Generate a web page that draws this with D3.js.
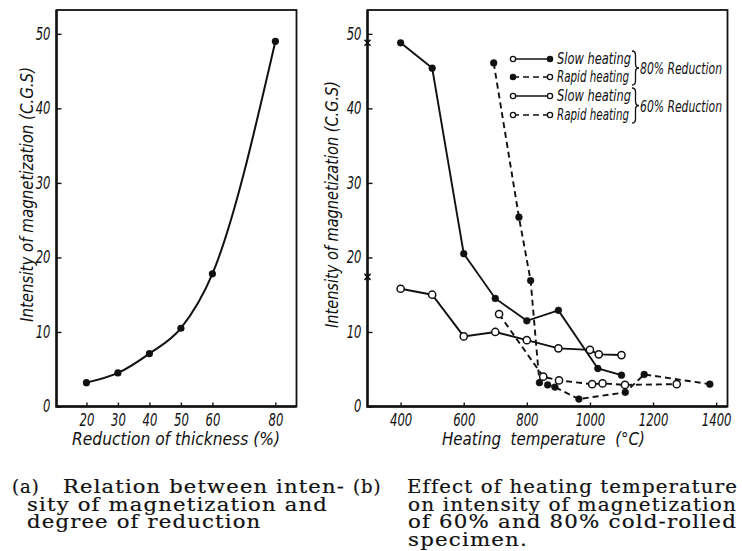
<!DOCTYPE html>
<html>
<head>
<meta charset="utf-8">
<script src="https://cdn.jsdelivr.net/npm/d3@7"></script>
<style>
  html, body { margin: 0; padding: 0; background: #fff; }
  svg { display: block; }
</style>
</head>
<body>
<script>
/* ---------- data ---------- */
// (a) magnetization vs reduction of thickness
const reduction = [20, 30, 40, 50, 60, 80];
const magnetA = [3.2, 4.5, 7.1, 10.5, 17.8, 49.0];
const reductionTicks = [20, 30, 40, 50, 60, 80];

// (b) magnetization vs heating temperature
const slow80T = [400, 500, 600, 700, 800, 900, 1025, 1100];
const slow80M = [48.8, 45.4, 20.5, 14.5, 11.5, 12.9, 5.1, 4.2];
const rapid80T = [695, 775, 812, 840, 866, 889, 965, 1112, 1172, 1380];
const rapid80M = [46.1, 25.4, 16.9, 3.2, 2.9, 2.6, 1.0, 1.9, 4.3, 3.0];
const slow60T = [400, 500, 600, 700, 800, 900, 1000, 1028, 1100];
const slow60M = [15.8, 15.0, 9.4, 10.0, 8.9, 7.8, 7.6, 7.0, 6.9];
const rapid60T = [712, 852, 902, 1007, 1040, 1111, 1275];
const rapid60M = [12.4, 4.0, 3.5, 3.0, 3.1, 2.9, 3.0];
const asRolledM = [48.8, 17.4];           // the two "x" marks on the axis
const tempTicks = [400, 600, 800, 1000, 1200, 1400];
const magTicks = [0, 10, 20, 30, 40, 50];

const legendNames = ["Slow heating", "Rapid heating", "Slow heating", "Rapid heating"];
const groupNames = ["80% Reduction", "60% Reduction"];

const captionA = ["Relation between inten-", "sity of magnetization and", "degree of reduction"];
const captionB = ["Effect of heating temperature", "on intensity of magnetization", "of 60% and 80% cold-rolled", "specimen."];

/* ---------- setup ---------- */
const W = 742, H = 551;
const ink = "#111";
const hand = '"Liberation Sans Narrow","DejaVu Sans Condensed","DejaVu Sans",sans-serif';
const serif = '"DejaVu Serif","Liberation Serif",serif';

const svg = d3.select("body").append("svg").attr("width", W).attr("height", H);
svg.append("rect").attr("width", W).attr("height", H).attr("fill", "#fff");

const yScale = d3.scaleLinear().domain([0, 53.2]).range([406.5, 10]);
const xA = d3.scaleLinear().domain([10.5, 86.7]).range([56.5, 296.5]);
const xB = d3.scaleLinear().domain([295, 1436]).range([367.5, 727.5]);

function handText(sel, len) {
  sel.attr("font-family", hand).attr("font-style", "italic").attr("fill", ink);
  if (len) sel.attr("textLength", len).attr("lengthAdjust", "spacingAndGlyphs");
  return sel;
}

function drawPanel(x, xTicks) {
  const [l, r] = x.range(), [b, t] = yScale.range();
  const g = svg.append("g");

  g.append("rect").attr("x", l).attr("y", t).attr("width", r - l).attr("height", b - t)
    .attr("fill", "none").attr("stroke", ink).attr("stroke-width", 1.8);
  g.append("path").attr("d", `M${l},${t} V${b} H${r}`)
    .attr("fill", "none").attr("stroke", ink).attr("stroke-width", 2.4);

  const xAxis = g.append("g").attr("transform", `translate(0,${b})`)
    .call(d3.axisBottom(x).tickValues(xTicks).tickFormat(d3.format("d"))
      .tickSize(-4).tickSizeOuter(0).tickPadding(8));
  const yAxis = g.append("g").attr("transform", `translate(${l},0)`)
    .call(d3.axisLeft(yScale).tickValues(magTicks).tickSize(-5).tickSizeOuter(0).tickPadding(6));

  [xAxis, yAxis].forEach(a => {
    a.select(".domain").remove();
    a.selectAll(".tick line").attr("stroke", ink).attr("stroke-width", 1.4);
    a.selectAll(".tick text").attr("font-size", 17)
      .call(s => handText(s))
      .attr("textLength", function () { return this.textContent.length * 7.4; })
      .attr("lengthAdjust", "spacingAndGlyphs");
  });
  xAxis.selectAll("text").attr("y", 7).attr("dy", "0.76em");
  return g;
}

/* ---------- panel (a) ---------- */
const gA = drawPanel(xA, reductionTicks);
const ptsA = reduction.map((d, i) => [d, magnetA[i]]);

gA.append("path").datum(ptsA)
  .attr("d", d3.line().x(d => xA(d[0])).y(d => yScale(d[1])).curve(d3.curveMonotoneX))
  .attr("fill", "none").attr("stroke", ink).attr("stroke-width", 2);
gA.selectAll(".ptA").data(ptsA).join("circle")
  .attr("cx", d => xA(d[0])).attr("cy", d => yScale(d[1])).attr("r", 3.6).attr("fill", ink);

handText(gA.append("text").attr("x", 72).attr("y", 445).attr("font-size", 18)
  .text("Reduction of thickness (%)"), 208);
handText(gA.append("text").attr("transform", "translate(33,322) rotate(-90)").attr("font-size", 17)
  .text("Intensity of magnetization (C.G.S)"), 255);

/* ---------- panel (b) ---------- */
const gB = drawPanel(xB, tempTicks);

const series = [
  { t: slow80T, m: slow80M, dash: null, filled: true },
  { t: rapid80T, m: rapid80M, dash: "6,4", filled: true },
  { t: slow60T, m: slow60M, dash: null, filled: false },
  { t: rapid60T, m: rapid60M, dash: "6,4", filled: false }
];
const lineB = d3.line().x(d => xB(d[0])).y(d => yScale(d[1]));

series.forEach(s => {
  const pts = s.t.map((d, i) => [d, s.m[i]]);
  gB.append("path").datum(pts).attr("d", lineB)
    .attr("fill", "none").attr("stroke", ink).attr("stroke-width", 1.9)
    .attr("stroke-dasharray", s.dash);
});
series.forEach(s => {
  const pts = s.t.map((d, i) => [d, s.m[i]]);
  gB.append("g").selectAll("circle").data(pts).join("circle")
    .attr("cx", d => xB(d[0])).attr("cy", d => yScale(d[1]))
    .attr("r", s.filled ? 3.4 : 3.6)
    .attr("fill", s.filled ? ink : "#fff")
    .attr("stroke", ink).attr("stroke-width", s.filled ? 0.5 : 1.5);
});

// as-rolled values, marked with small crosses on the y axis
gB.selectAll(".xmark").data(asRolledM).join("path")
  .attr("transform", d => `translate(${xB.range()[0]},${yScale(d)})`)
  .attr("d", "M-3,-3L3,3M-3,3L3,-3")
  .attr("fill", "none").attr("stroke", ink).attr("stroke-width", 1.6);

handText(gB.append("text").attr("x", 442).attr("y", 445).attr("font-size", 18)
  .attr("xml:space", "preserve").text("Heating  temperature  (\u00b0C)"), 203);
handText(gB.append("text").attr("transform", "translate(338,328) rotate(-90)").attr("font-size", 17)
  .text("Intensity of magnetization (C.G.S)"), 247);

/* ---------- legend ---------- */
const legY = [59, 77, 96, 115];
const legEnds = [[false, true], [true, false], [false, false], [false, false]];
const lg = gB.append("g");
legendNames.forEach((name, i) => {
  const s = series[i], y = legY[i];
  lg.append("line").attr("x1", 513).attr("x2", 550).attr("y1", y).attr("y2", y)
    .attr("stroke", ink).attr("stroke-width", 1.6).attr("stroke-dasharray", s.dash);
  [513, 550].forEach((x, k) => {
    const f = legEnds[i][k];
    lg.append("circle").attr("cx", x).attr("cy", y).attr("r", 2.6)
      .attr("fill", f ? ink : "#fff").attr("stroke", ink).attr("stroke-width", 1.3);
  });
  handText(lg.append("text").attr("x", 557).attr("y", y + 5).attr("font-size", 15).text(name),
    name.startsWith("Slow") ? 74 : 72);
});

function brace(x, y0, y1, w) {
  const ym = (y0 + y1) / 2, xm = x + w * 0.5;
  return `M${x},${y0} Q${xm},${y0} ${xm},${y0 + 4} L${xm},${ym - 4} Q${xm},${ym} ${x + w},${ym}` +
    ` Q${xm},${ym} ${xm},${ym + 4} L${xm},${y1 - 4} Q${xm},${y1} ${x},${y1}`;
}
groupNames.forEach((name, i) => {
  const y0 = legY[i * 2] - 8, y1 = legY[i * 2 + 1] + 8;
  lg.append("path").attr("d", brace(632, y0, y1, 7))
    .attr("fill", "none").attr("stroke", ink).attr("stroke-width", 1.3);
  handText(lg.append("text").attr("x", 640).attr("y", (y0 + y1) / 2 + 6).attr("font-size", 15)
    .text(name), 82);
});

/* ---------- captions ---------- */
const capY = [493, 510.5, 528, 545.5];
const cap = svg.append("g").attr("font-family", serif).attr("font-size", 18)
  .attr("letter-spacing", 1).attr("fill", ink).attr("stroke", ink).attr("stroke-width", 0.2);

function fitLines(lines, x0, lens) {
  // lens: target widths where the reference shows them; other lines get the same stretch
  const nodes = lines.map((t, i) => cap.append("text").attr("x", x0[i]).attr("y", capY[i]).text(t));
  let k = 1;
  nodes.forEach((n, i) => { if (lens[i]) k = lens[i] / n.node().getComputedTextLength(); });
  nodes.forEach((n, i) => {
    const L = lens[i] || n.node().getComputedTextLength() * k;
    n.attr("textLength", L).attr("lengthAdjust", "spacingAndGlyphs");
  });
}

cap.append("text").attr("x", 12).attr("y", capY[0]).text("(a)");
fitLines(captionA, [63, 27, 27], [282, 301, null]);
cap.append("text").attr("x", 353).attr("y", capY[0]).text("(b)");
fitLines(captionB, [407, 408, 408, 408], [331, 329, 329, null]);
</script>
</body>
</html>
